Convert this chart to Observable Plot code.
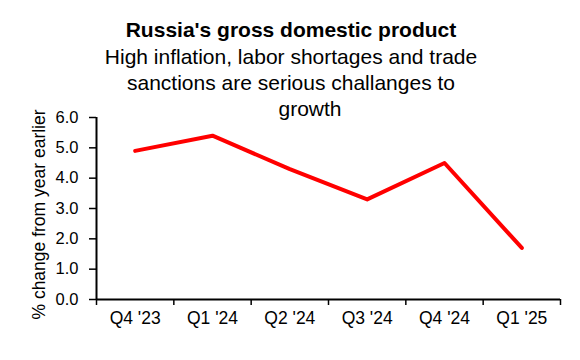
<!DOCTYPE html>
<html>
<head>
<meta charset="utf-8">
<script src="https://cdn.jsdelivr.net/npm/d3@7"></script>
<script src="https://cdn.jsdelivr.net/npm/@observablehq/plot@0.6"></script>
<style>
  html, body { margin: 0; padding: 0; background: #fff; }
  #wrap { position: relative; width: 580px; height: 360px; font-family: "Liberation Sans", Arial, sans-serif; color: #000; }
  #wrap svg { position: absolute; left: 0; top: 0; }
  .title { position: absolute; left: 0; width: 582px; text-align: center; top: 18px; font-size: 21px; font-weight: bold; line-height: 24px; z-index: 2; }
  .subtitle { position: absolute; left: 0; width: 582px; text-align: center; top: 44px; font-size: 21px; line-height: 26px; z-index: 2; }
  .subtitle .shift { position: relative; left: 19px; }
</style>
</head>
<body>
<div id="wrap">
  <div class="title">Russia's gross domestic product</div>
  <div class="subtitle">High inflation, labor shortages and trade<br>sanctions are serious challanges to<br><span class="shift">growth</span></div>
</div>
<script>
const categories = ["Q4 '23", "Q1 '24", "Q2 '24", "Q3 '24", "Q4 '24", "Q1 '25"];
const gdpGrowth = [4.9, 5.4, 4.3, 3.3, 4.5, 1.7];
const yTicks = [0, 1, 2, 3, 4, 5, 6];
const yLabel = "% change from year earlier";

const data = categories.map((q, i) => ({q, pos: i + 0.5, v: gdpGrowth[i]}));
const boundaries = d3.range(categories.length + 1);

const chart = Plot.plot({
  width: 580,
  height: 360,
  marginTop: 117,
  marginBottom: 61,
  marginLeft: 96,
  marginRight: 20,
  style: {fontFamily: "'Liberation Sans', Arial, sans-serif", fontSize: "16px", color: "#000", background: "transparent"},
  x: {domain: [0, categories.length], axis: null},
  y: {domain: [0, 6], axis: null},
  marks: [
    Plot.axisY({ticks: yTicks, tickFormat: d => d.toFixed(1), tickSize: 7, tickPadding: 11, label: null, fontSize: 16.5, stroke: "#000", strokeWidth: 1.5}),
    Plot.axisX({ticks: boundaries, tickFormat: () => "", tickSize: 6, label: null, stroke: "#000", strokeWidth: 1.5}),
    Plot.axisX({ticks: data.map(d => d.pos), tickFormat: d => categories[Math.round(d - 0.5)], tickSize: 0, tickPadding: 12, label: null, fontSize: 17.5}),
    Plot.ruleX([0], {stroke: "#000", strokeWidth: 2}),
    Plot.ruleY([0], {stroke: "#000", strokeWidth: 2}),
    Plot.lineY(data, {x: "pos", y: "v", stroke: "#ff0000", strokeWidth: 4}),
    Plot.text([yLabel], {frameAnchor: "left", textAnchor: "middle", rotate: -90, dx: -57, dy: 6, fontSize: 17.5, fill: "#000"})
  ]
});
document.getElementById("wrap").appendChild(chart);
</script>
</body>
</html>
